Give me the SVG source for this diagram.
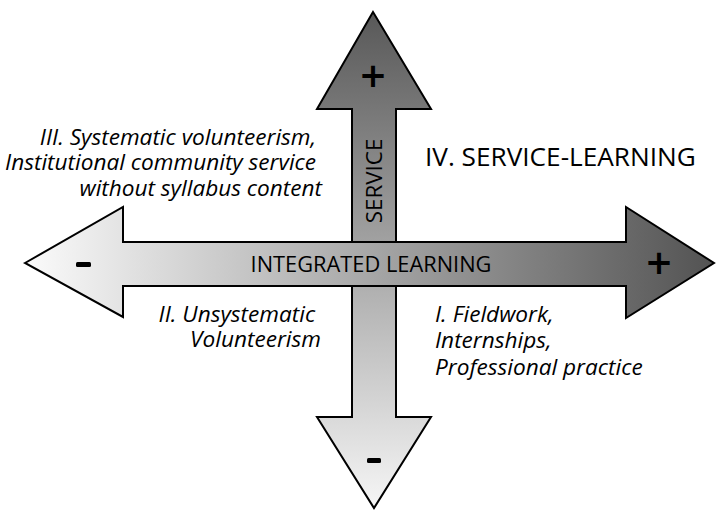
<svg xmlns="http://www.w3.org/2000/svg" width="716" height="512" viewBox="0 0 716 512">
  <defs>
    <linearGradient id="gradV" gradientUnits="userSpaceOnUse" x1="0" y1="12" x2="0" y2="508">
      <stop offset="0" stop-color="#585858"/>
      <stop offset="1" stop-color="#f6f6f6"/>
    </linearGradient>
    <linearGradient id="gradH" gradientUnits="userSpaceOnUse" x1="25" y1="0" x2="714" y2="0">
      <stop offset="0" stop-color="#fbfbfb"/>
      <stop offset="1" stop-color="#535353"/>
    </linearGradient>
    <style>
      .arrow { stroke: #000; stroke-width: 2; stroke-linejoin: miter; }
      .note { font-family: "Open Sans", "Liberation Sans", sans-serif; font-style: italic; font-size: 22.6px; fill: #000; }
      .caps { font-family: "Open Sans", "Liberation Sans", sans-serif; fill: #000; }
      .sign { font-family: "DejaVu Sans", "Liberation Sans", sans-serif; font-weight: bold; fill: #000; text-anchor: middle; }
    </style>
  </defs>

  <!-- vertical axis: service -->
  <g id="axis-service">
    <path class="arrow" fill="url(#gradV)" d="M373,12 L431,109 L396,109 L396,417 L431,417 L374,508 L317,417 L352,417 L352,109 L317,109 Z"/>
    <text class="sign" x="373" y="87" font-size="34">+</text>
    <rect x="367" y="458" width="14" height="5" rx="1.5" fill="#000"/>
    <text class="caps" font-size="22.4" text-anchor="middle" transform="translate(382,181) rotate(-90)">SERVICE</text>
  </g>

  <!-- horizontal axis: integrated learning -->
  <g id="axis-learning">
    <path class="arrow" fill="url(#gradH)" d="M25,263 L123,207 L123,242 L626,242 L626,207 L714,263 L626,318 L626,286 L123,286 L123,317 Z"/>
    <rect x="76" y="262" width="15" height="5" rx="1.5" fill="#000"/>
    <text class="sign" x="659" y="274" font-size="34">+</text>
    <text class="caps" x="371" y="272" font-size="21.8" text-anchor="middle">INTEGRATED LEARNING</text>
  </g>

  <!-- quadrant labels -->
  <g id="quadrant-3">
    <text class="note" text-anchor="end">
      <tspan x="322" y="145">III. Systematic volunteerism,</tspan>
      <tspan x="322" y="170">Institutional community service</tspan>
      <tspan x="322" y="196">without syllabus content</tspan>
    </text>
  </g>
  <g id="quadrant-4">
    <text class="caps" x="425" y="166" font-size="26.2">IV. SERVICE-LEARNING</text>
  </g>
  <g id="quadrant-2">
    <text class="note" text-anchor="end">
      <tspan x="321" y="322">II. Unsystematic</tspan>
      <tspan x="321" y="347">Volunteerism</tspan>
    </text>
  </g>
  <g id="quadrant-1">
    <text class="note">
      <tspan x="435" y="322">I. Fieldwork,</tspan>
      <tspan x="435" y="348">Internships,</tspan>
      <tspan x="435" y="375">Professional practice</tspan>
    </text>
  </g>

  <g id="connectors"/>
</svg>
